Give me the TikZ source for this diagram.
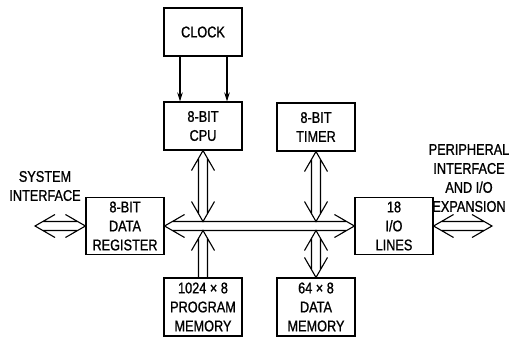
\documentclass[tikz,border=0pt]{standalone}
\usepackage{fontspec}
\setmainfont{Liberation Sans}[FakeStretch=0.82, FakeBold=1]
\usetikzlibrary{positioning, arrows.meta, calc}

\begin{document}
\begin{tikzpicture}[
    x=1pt, y=-1pt,
    >={Stealth[length=9pt, width=5.5pt]},
    blk/.style={draw, rectangle, line width=1.1pt, minimum width=78pt, minimum height=48pt, align=center, inner sep=0pt, font=\fontsize{15.5}{19}\selectfont},
    tallblk/.style={blk, minimum height=57pt},
    txt/.style={align=center, inner sep=0pt, font=\fontsize{15.5}{19}\selectfont},
    clk/.style={->, line width=1.1pt},
    dblbus/.style={line width=1.1pt, to path={
        ($(\tikztostart)!20pt!(\tikztotarget)!11.5pt!90:(\tikztotarget)$) -- (\tikztostart) -- ($(\tikztostart)!20pt!(\tikztotarget)!11.5pt!-90:(\tikztotarget)$)
        ($(\tikztotarget)!20pt!(\tikztostart)!11.5pt!90:(\tikztostart)$) -- (\tikztotarget) -- ($(\tikztotarget)!20pt!(\tikztostart)!11.5pt!-90:(\tikztostart)$)
        ($(\tikztostart)!7.8pt!(\tikztotarget)!4.5pt!90:(\tikztotarget)$) -- ($(\tikztotarget)!7.8pt!(\tikztostart)!4.5pt!-90:(\tikztostart)$)
        ($(\tikztostart)!7.8pt!(\tikztotarget)!4.5pt!-90:(\tikztotarget)$) -- ($(\tikztotarget)!7.8pt!(\tikztostart)!4.5pt!90:(\tikztostart)$)
    }},
    onebus/.style={line width=1.1pt, to path={
        ($(\tikztotarget)!20pt!(\tikztostart)!11.5pt!90:(\tikztostart)$) -- (\tikztotarget) -- ($(\tikztotarget)!20pt!(\tikztostart)!11.5pt!-90:(\tikztostart)$)
        ($(\tikztostart)!4.5pt!90:(\tikztotarget)$) -- ($(\tikztotarget)!7.8pt!(\tikztostart)!4.5pt!-90:(\tikztostart)$)
        ($(\tikztostart)!4.5pt!-90:(\tikztotarget)$) -- ($(\tikztotarget)!7.8pt!(\tikztostart)!4.5pt!90:(\tikztostart)$)
    }}
]

\useasboundingbox (0,0) rectangle (511,337);

% Blocks
\node[blk] (clock) at (203,32) {CLOCK};
\node[blk] (cpu) at (203,126) {8-BIT\\CPU};
\node[blk] (timer) at (316,127) {8-BIT\\TIMER};
\node[tallblk] (reg) at (125,226) {8-BIT\\DATA\\REGISTER};
\node[tallblk] (io) at (394,226) {18\\I/O\\LINES};
\node[tallblk, minimum height=58pt] (pmem) at (203,307) {1024 × 8\\PROGRAM\\MEMORY};
\node[tallblk, minimum height=58pt] (dmem) at (316,307) {64 × 8\\DATA\\MEMORY};

% Outside labels
\node[txt] (sysif) at (45,186) {SYSTEM\\INTERFACE};
\node[txt] (perif) at (469,178) {PERIPHERAL\\INTERFACE\\AND I/O\\EXPANSION};

% Bus contact points
\coordinate (sysend) at (35,226);
\coordinate (perend) at (492,226);
\coordinate (cpuhit) at (203,221.5);
\coordinate (pmhit) at (203,230.5);
\coordinate (timhit) at (316,221.5);
\coordinate (dmhit) at (316,230.5);

% Clock lines
\draw[clk] ([xshift=-23pt]clock.south) -- ([xshift=-23pt]cpu.north);
\draw[clk] ([xshift=24pt]clock.south) -- ([xshift=24pt]cpu.north);

% Internal bus
\draw[dblbus] (reg.east) to (io.west);
\draw[dblbus] (cpu.south) to (cpuhit);
\draw[onebus] (pmem.north) to (pmhit);
\draw[dblbus] (timer.south) to (timhit);
\draw[dblbus] (dmem.north) to (dmhit);

% External connections
\draw[dblbus] (sysend) to (reg.west);
\draw[dblbus] (io.east) to (perend);

\end{tikzpicture}
\end{document}
